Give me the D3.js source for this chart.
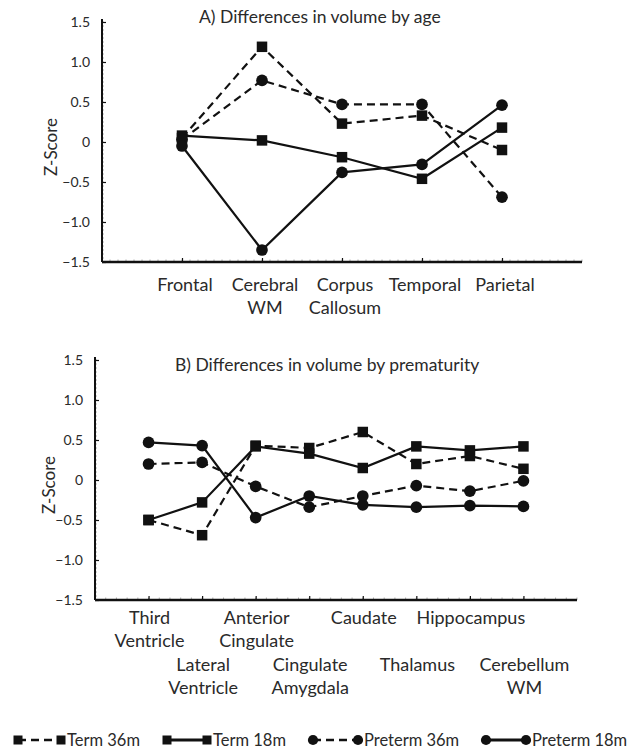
<!DOCTYPE html>
<html>
<head>
<meta charset="utf-8">
<script src="https://cdn.jsdelivr.net/npm/d3@7"></script>
<style>
  body { margin: 0; background: #fff; }
  svg { display: block; }
</style>
</head>
<body>
<div class="graph"></div>
<script>
// ---- data ----
const seriesNames = ["Term 36m", "Term 18m", "Preterm 36m", "Preterm 18m"];
const yTicks = [-1.5, -1.0, -0.5, 0, 0.5, 1.0, 1.5];

// panel A: by age
const titleA = "A)  Differences in volume by age";
const categoriesA = ["Frontal", "Cerebral\nWM", "Corpus\nCallosum", "Temporal", "Parietal"];
const term36A    = [0.05, 1.19, 0.23, 0.33, -0.10];
const term18A    = [0.08, 0.02, -0.19, -0.46, 0.18];
const preterm36A = [0.03, 0.77, 0.47, 0.47, -0.69];
const preterm18A = [-0.05, -1.35, -0.38, -0.28, 0.46];

// panel B: by prematurity
const titleB = "B)  Differences in volume by prematurity";
const categoriesB = ["Third\nVentricle", "Lateral\nVentricle", "Anterior\nCingulate", "Cingulate\nAmygdala",
                     "Caudate", "Thalamus", "Hippocampus", "Cerebellum\nWM"];
const term36B    = [-0.50, -0.69, 0.43, 0.40, 0.60, 0.20, 0.30, 0.14];
const term18B    = [-0.50, -0.28, 0.42, 0.33, 0.15, 0.42, 0.37, 0.42];
const preterm36B = [0.20, 0.22, -0.08, -0.34, -0.20, -0.07, -0.14, -0.01];
const preterm18B = [0.47, 0.43, -0.47, -0.20, -0.31, -0.34, -0.32, -0.33];

// ---- drawing ----
const width = 631, height = 751;
const ink = "#111";
const textCol = "#2a2a2a";
const font = "Lato, 'Open Sans', sans-serif";

const styles = {
  "Term 36m":    {shape: "square", dash: "8,5"},
  "Term 18m":    {shape: "square", dash: null},
  "Preterm 36m": {shape: "circle", dash: "8,5"},
  "Preterm 18m": {shape: "circle", dash: null}
};

const svg = d3.select(".graph").append("svg")
    .attr("width", width)
    .attr("height", height)
    .style("font-family", font);

svg.append("rect")
    .attr("width", "100%")
    .attr("height", "100%")
    .style("fill", "#fff");

function marker(g, shape, cx, cy, size) {
  if (shape === "square") {
    g.append("rect")
      .attr("x", cx - size / 2).attr("y", cy - size / 2)
      .attr("width", size).attr("height", size)
      .attr("fill", ink);
  } else {
    g.append("circle")
      .attr("cx", cx).attr("cy", cy)
      .attr("r", size / 2 + 0.6)
      .attr("fill", ink);
  }
}

function drawPanel(opt) {
  const g = svg.append("g");
  const n = opt.categories.length;

  const x = d3.scaleLinear().domain([0, n + 1]).range([opt.left, opt.right]);
  const y = d3.scaleLinear().domain([-1.5, 1.5]).range([opt.bottom, opt.top]);

  // minor ticks, ruler look
  g.append("g").selectAll("line")
    .data(d3.range(-1.5, 1.5001, 0.05))
    .join("line")
    .attr("x1", opt.left).attr("x2", opt.left + 2)
    .attr("y1", d => y(d)).attr("y2", d => y(d))
    .attr("stroke", "#999").attr("stroke-width", 0.8);
  g.append("g").selectAll("line")
    .data(x.ticks(60))
    .join("line")
    .attr("x1", d => x(d)).attr("x2", d => x(d))
    .attr("y1", opt.bottom).attr("y2", opt.bottom - 2.5)
    .attr("stroke", "#999").attr("stroke-width", 0.8);

  // y axis
  const yAxis = d3.axisLeft(y)
    .tickValues(yTicks)
    .tickSizeInner(-4)
    .tickSizeOuter(0)
    .tickPadding(12)
    .tickFormat(d => d === 0 ? "0" : d3.format(".1f")(d));
  g.append("g")
    .attr("transform", `translate(${opt.left},0)`)
    .call(yAxis)
    .call(a => a.select(".domain").remove())
    .call(a => a.selectAll(".tick line").attr("stroke", ink).attr("stroke-width", 1.2))
    .call(a => a.selectAll(".tick text")
      .attr("fill", textCol)
      .style("font-family", font)
      .style("font-size", "14px"));

  g.append("line")
    .attr("x1", opt.left).attr("x2", opt.left)
    .attr("y1", opt.top - 3).attr("y2", opt.bottom)
    .attr("stroke", ink).attr("stroke-width", 2);

  // x axis
  const xAxis = d3.axisBottom(x)
    .tickValues(d3.range(1, n + 1))
    .tickSizeInner(-4)
    .tickSizeOuter(0)
    .tickFormat("");
  g.append("g")
    .attr("transform", `translate(0,${opt.bottom})`)
    .call(xAxis)
    .call(a => a.select(".domain").remove())
    .call(a => a.selectAll(".tick line").attr("stroke", ink).attr("stroke-width", 1.2));

  g.append("line")
    .attr("x1", opt.left).attr("x2", opt.right)
    .attr("y1", opt.bottom).attr("y2", opt.bottom)
    .attr("stroke", ink).attr("stroke-width", 2.5);

  // category labels
  opt.categories.forEach((c, i) => {
    const row = opt.stagger ? i % 2 : 0;
    const t = g.append("text")
      .attr("x", x(i + 1) + opt.labelShift)
      .attr("y", opt.labelY + row * opt.rowGap)
      .attr("text-anchor", "middle")
      .attr("fill", textCol)
      .style("font-size", "18px");
    c.split("\n").forEach((line, k) => {
      t.append("tspan")
        .attr("x", x(i + 1) + opt.labelShift)
        .attr("dy", k === 0 ? 0 : 23)
        .text(line);
    });
  });

  // y label
  g.append("text")
    .attr("transform", `translate(${opt.yLabelX},${(opt.top + opt.bottom) / 2 + 5}) rotate(-90)`)
    .attr("text-anchor", "middle")
    .attr("dominant-baseline", "central")
    .attr("fill", textCol)
    .style("font-size", "17px")
    .text("Z-Score");

  // title
  g.append("text")
    .attr("x", opt.titleX)
    .attr("y", opt.titleY)
    .attr("fill", textCol)
    .style("font-size", "17.5px")
    .text(opt.title);

  // series
  const line = d3.line()
    .x((d, i) => x(i + 1))
    .y(d => y(d));

  opt.series.forEach((vals, s) => {
    const st = styles[seriesNames[s]];
    g.append("path")
      .datum(vals)
      .attr("d", line)
      .attr("fill", "none")
      .attr("stroke", ink)
      .attr("stroke-width", 2.2)
      .attr("stroke-dasharray", st.dash);
    const mg = g.append("g");
    vals.forEach((v, i) => marker(mg, st.shape, x(i + 1), y(v), 10.5));
  });
}

drawPanel({
  title: titleA, titleX: 199, titleY: 23,
  categories: categoriesA,
  series: [term36A, term18A, preterm36A, preterm18A],
  left: 102, right: 582, top: 22, bottom: 262,
  labelY: 291, labelShift: 3, stagger: false, rowGap: 0,
  yLabelX: 50
});

drawPanel({
  title: titleB, titleX: 175, titleY: 371,
  categories: categoriesB,
  series: [term36B, term18B, preterm36B, preterm18B],
  left: 95, right: 577, top: 360, bottom: 600,
  labelY: 624, labelShift: 1, stagger: true, rowGap: 47,
  yLabelX: 48
});

// legend
const legend = svg.append("g");
const legendItems = [
  {x1: 18,  x2: 61},
  {x1: 167, x2: 207},
  {x1: 313, x2: 358},
  {x1: 486, x2: 526}
];
seriesNames.forEach((name, i) => {
  const st = styles[name];
  const p = legendItems[i];
  const ly = 740;
  legend.append("line")
    .attr("x1", p.x1).attr("x2", p.x2)
    .attr("y1", ly).attr("y2", ly)
    .attr("stroke", ink)
    .attr("stroke-width", st.dash ? 2.5 : 3)
    .attr("stroke-dasharray", st.dash ? "8,5" : null);
  marker(legend, st.shape, p.x1, ly, 9);
  marker(legend, st.shape, p.x2, ly, 9);
  legend.append("text")
    .attr("x", p.x2 + 6)
    .attr("y", ly + 6)
    .attr("fill", textCol)
    .style("font-size", "16.5px")
    .text(name);
});
</script>
</body>
</html>
